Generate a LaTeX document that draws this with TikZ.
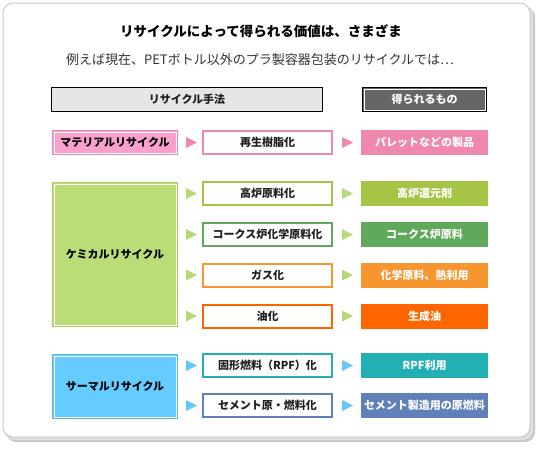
\documentclass[tikz,border=0pt]{standalone}
\usepackage{fontspec}
\setmainfont{Noto Sans CJK JP}
\usetikzlibrary{calc}
\definecolor{frameline}{HTML}{C8C8C8}
\definecolor{headgray}{HTML}{E6E6E6}
\definecolor{headdark}{HTML}{666666}
\definecolor{matfill}{HTML}{F9A0CD}
\definecolor{matline}{HTML}{EE86B5}
\definecolor{pinkc}{HTML}{EF87AF}
\definecolor{chemfill}{HTML}{BBDD77}
\definecolor{chemline}{HTML}{A8CC60}
\definecolor{chemarrow}{HTML}{B8D978}
\definecolor{kouroc}{HTML}{A5C445}
\definecolor{cokec}{HTML}{5FAA5A}
\definecolor{gasc}{HTML}{F7962F}
\definecolor{oilc}{HTML}{FF6600}
\definecolor{thermfill}{HTML}{66CCFF}
\definecolor{thermline}{HTML}{55BBEE}
\definecolor{thermarrow}{HTML}{66C8F8}
\definecolor{rpfc}{HTML}{22B0B5}
\definecolor{cementc}{HTML}{5F80B8}
\tikzset{
  lbl/.style={font=\fontsize{11}{11}\selectfont\bfseries},
  catbox/.style={lbl, rectangle, inner sep=0, outer sep=0, line width=1pt, minimum width=125pt},
  midbox/.style={lbl, rectangle, inner sep=0, outer sep=0, fill=white, line width=2pt, minimum width=129pt, minimum height=23pt, text=black!88},
  resbox/.style={lbl, rectangle, inner sep=0, outer sep=0, minimum width=127pt, minimum height=25pt, text=white},
  headbox/.style={lbl, rectangle, inner sep=0, outer sep=0, draw=black, line width=1pt, minimum height=24pt},
}
\newcommand{\tri}[3]{\fill[#1] ($(#2.west)+(#3,-5.5)$) -- ++(11,5.5) -- ++(-11,5.5) -- cycle;}
\begin{document}
\begin{tikzpicture}[x=1pt,y=-1pt]
\useasboundingbox (0,0) rectangle (540,448);
% frame
\fill[black!22, rounded corners=10pt] (6,7) rectangle (535,442);
\fill[black!12, rounded corners=10pt] (4,5) rectangle (533,440);
\filldraw[fill=white, draw=frameline, line width=1pt, rounded corners=10pt] (3,3) rectangle (530,437);
% titles
\node (title) at (261,31) {\fontsize{13.5}{13.5}\selectfont\bfseries リサイクルによって得られる価値は、さまざま};
\node[text=black!80] (sub) at (260,60) {\fontsize{13}{13}\selectfont 例えば現在、PETボトル以外のプラ製容器包装のリサイクルでは…};
% headers
\node[headbox, fill=headgray, minimum width=271pt, text=black!88] (h1) at (187,99.5) {リサイクル手法};
\node[headbox, fill=headdark, minimum width=124pt, text=white] (h2) at (424.5,99.5) {得られるもの};
\draw[white, line width=1pt] ($(h2.north west)+(1.5,1.5)$) rectangle ($(h2.south east)+(-1.5,-1.5)$);
% category boxes
\node[catbox, fill=matfill, draw=matline, minimum height=24pt] (mat) at (115,142.5) {マテリアルリサイクル};
\node[catbox, fill=chemfill, draw=chemline, minimum height=144pt] (chem) at (115,254.5) {ケミカルリサイクル};
\node[catbox, fill=thermfill, draw=thermline, minimum height=64pt] (therm) at (115,386.5) {サーマルリサイクル};
\foreach \c in {mat,chem,therm}{
  \draw[white, line width=1pt] ($(\c.north west)+(1.5,1.5)$) rectangle ($(\c.south east)+(-1.5,-1.5)$);
}
% method boxes
\node[midbox, draw=pinkc] (m1) at (267.5,142.5) {再生樹脂化};
\node[midbox, draw=kouroc] (m2) at (267.5,193.5) {高炉原料化};
\node[midbox, draw=cokec] (m3) at (267.5,234.5) {コークス炉化学原料化};
\node[midbox, draw=gasc] (m4) at (267.5,275) {ガス化};
\node[midbox, draw=oilc] (m5) at (267.5,316) {油化};
\node[midbox, draw=rpfc] (m6) at (267.5,365.5) {固形燃料（RPF）化};
\node[midbox, draw=cementc] (m7) at (267.5,405.5) {セメント原・燃料化};
% result boxes
\node[resbox, fill=pinkc] (r1) at (424.5,142.5) {パレットなどの製品};
\node[resbox, fill=kouroc] (r2) at (424.5,193.5) {高炉還元剤};
\node[resbox, fill=cokec] (r3) at (424.5,234.5) {コークス炉原料};
\node[resbox, fill=gasc] (r4) at (424.5,275) {化学原料、熱利用};
\node[resbox, fill=oilc] (r5) at (424.5,316) {生成油};
\node[resbox, fill=rpfc] (r6) at (424.5,365.5) {RPF利用};
\node[resbox, fill=cementc] (r7) at (424.5,405.5) {セメント製造用の原燃料};
% arrows
\tri{pinkc}{m1}{-17}
\tri{pinkc}{r1}{-19}
\foreach \i in {2,3,4,5}{
  \tri{chemarrow}{m\i}{-17}
  \tri{chemarrow}{r\i}{-19}
}
\foreach \i in {6,7}{
  \tri{thermarrow}{m\i}{-17}
  \tri{thermarrow}{r\i}{-19}
}
\end{tikzpicture}
\end{document}
